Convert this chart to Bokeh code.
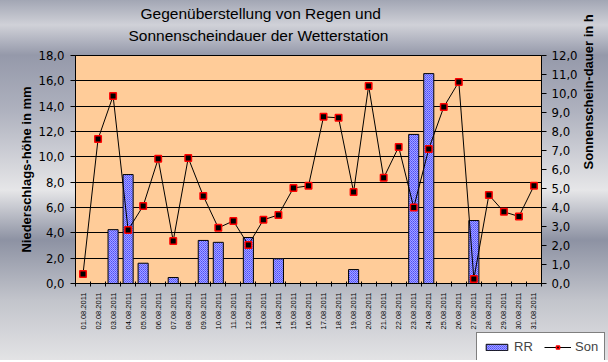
import math
from bokeh.plotting import figure
from bokeh.layouts import column, row
from bokeh.models import (Range1d, LinearAxis, FixedTicker, CustomJSTickFormatter,
                          Title, Legend, LegendItem, ColumnDataSource, Spacer)
from bokeh.embed import file_html
from bokeh.resources import INLINE

# ---- data ----
dates = ["01.08.2011", "02.08.2011", "03.08.2011", "04.08.2011", "05.08.2011", "06.08.2011",
         "07.08.2011", "08.08.2011", "09.08.2011", "10.08.2011", "11.08.2011", "12.08.2011",
         "13.08.2011", "14.08.2011", "15.08.2011", "16.08.2011", "17.08.2011", "18.08.2011",
         "19.08.2011", "20.08.2011", "21.08.2011", "22.08.2011", "23.08.2011", "24.08.2011",
         "25.08.2011", "26.08.2011", "27.08.2011", "28.08.2011", "29.08.2011", "30.08.2011",
         "31.08.2011"]
rr = [0, 0, 4.25, 8.6, 1.6, 0, 0.47, 0, 3.4, 3.25, 0, 3.63, 0, 1.95, 0, 0,
      0, 0, 1.1, 0, 0, 0, 11.77, 16.57, 0, 0, 4.97, 0, 0, 0, 0]
son = [0.5, 7.6, 9.87, 2.82, 4.08, 6.56, 2.24, 6.61, 4.61, 2.93, 3.29, 2.03, 3.35, 3.61,
       5.03, 5.14, 8.77, 8.72, 4.82, 10.4, 5.56, 7.19, 4.0, 7.08, 9.29, 10.61, 0.24,
       4.66, 3.77, 3.53, 5.14]
left_ticks = [0, 2, 4, 6, 8, 10, 12, 14, 16, 18]
right_ticks = [0, 1, 2, 3, 4, 5, 6, 7, 8, 9, 10, 11, 12]
title_lines = ["Gegenüberstellung von Regen und", "Sonnenscheindauer der Wetterstation"]
series_names = ["RR", "Son"]

# ---- style ----
NARROW = "'Liberation Sans Narrow', 'DejaVu Sans Condensed', sans-serif"
SANS = "'Liberation Sans', Arial, sans-serif"
GRADIENT = ("linear-gradient(to bottom, #a2a6b4 0px, #d0d1d8 25px, #9599aa 55px, "
            "#aeb1be 110px, #e6e6e8 190px, #8d92a3 240px, #c2c4cb 300px, #e4e4e6 362px)")
BAR_STYLE = dict(fill_color="white", hatch_pattern="criss_cross", hatch_color="#4a4aff",
                 hatch_scale=2, hatch_weight=1, line_color="black", line_width=1)
LINE_STYLE = dict(line_color="black", line_width=1)
MARK_STYLE = dict(marker="square", size=6.5, fill_color="black", line_color="red",
                  line_width=1.5)

x = list(range(1, len(dates) + 1))
src = ColumnDataSource(dict(x=x, rr=rr, son=son))

p = figure(frame_width=466, frame_height=228,
           x_range=Range1d(0.5, len(dates) + 0.5), y_range=Range1d(0, 18),
           output_backend="svg", toolbar_location=None,
           min_border_left=75, min_border_right=67, min_border_top=55, min_border_bottom=48,
           border_fill_alpha=0.0,
           background_fill_color="#ffcc99", outline_line_color="black",
           title=title_lines[0])
p.extra_y_ranges = {"sun": Range1d(0, 12)}

p.title.text_font = SANS
p.title.text_font_style = "normal"
p.title.text_font_size = "15.5px"
p.title.text_color = "black"
p.title.align = "left"
p.title.offset = 65
try:
    p.title.standoff = -18
except Exception:
    p.title.standoff = 0
t2 = Title(text=title_lines[1], text_font=SANS, text_font_style="normal",
           text_font_size="15.5px", text_color="black", align="left", offset=53, standoff=24)
p.add_layout(t2, "above")

# axes
p.xaxis.ticker = FixedTicker(ticks=x, minor_ticks=[k + 0.5 for k in range(0, len(dates) + 1)])
p.xaxis.formatter = CustomJSTickFormatter(args=dict(labels=dates),
                                          code="return labels[Math.round(tick)-1] || '';")
p.xaxis.major_label_orientation = math.pi / 2
p.xaxis.major_tick_in = 0
p.xaxis.major_tick_out = 0
p.xaxis.minor_tick_in = 2
p.xaxis.minor_tick_out = 3
p.xaxis.minor_tick_line_color = "black"
p.xaxis.major_label_standoff = 6
p.xaxis.major_label_text_font = SANS
p.xaxis.major_label_text_font_size = "7.5px"
p.xaxis.major_label_text_color = "black"
p.xaxis.axis_line_color = "black"

fmt = "return tick.toFixed(1).replace('.', ',');"
p.yaxis.ticker = FixedTicker(ticks=left_ticks)
p.yaxis.formatter = CustomJSTickFormatter(code=fmt)
p.yaxis.axis_label = "Niederschlags-höhe in mm"

right = LinearAxis(y_range_name="sun", ticker=FixedTicker(ticks=right_ticks),
                   formatter=CustomJSTickFormatter(code=fmt),
                   axis_label="Sonnenschein-dauer in h")
p.add_layout(right, "right")

for ax in (p.yaxis[0], right):
    ax.major_tick_in = 0
    ax.major_tick_out = 5
    ax.minor_tick_line_color = None
    ax.major_tick_line_color = "black"
    ax.axis_line_color = "black"
    ax.major_label_text_font = NARROW
    ax.major_label_text_font_size = "13px"
    ax.major_label_text_color = "black"
    ax.axis_label_text_font = SANS
    ax.axis_label_text_font_style = "bold"
    ax.axis_label_text_font_size = "13px"
    ax.axis_label_text_color = "black"
p.yaxis[0].major_label_standoff = 6
p.yaxis[0].axis_label_standoff = 1
right.major_label_standoff = 5
right.axis_label_standoff = 8
right.axis_label_orientation = math.pi / 2

p.xgrid.grid_line_color = None
p.ygrid.ticker = FixedTicker(ticks=left_ticks)
p.ygrid.grid_line_color = "black"
p.ygrid.grid_line_width = 1

# glyphs
p.vbar(x="x", top="rr", width=0.67, source=src, **BAR_STYLE)
p.line(x="x", y="son", source=src, y_range_name="sun", **LINE_STYLE)
p.scatter(x="x", y="son", source=src, y_range_name="sun", **MARK_STYLE)

# legend in its own small figure placed under the chart's lower right corner;
# its renderers use the same data but lie outside that small figure's ranges
lf = figure(width=132, height=28, x_range=Range1d(-20, -19), y_range=Range1d(-20, -19),
            output_backend="svg", toolbar_location=None, min_border=0,
            x_axis_location=None, y_axis_location=None, outline_line_color=None,
            background_fill_alpha=0.0, border_fill_alpha=0.0)
lf.grid.visible = False
lb = lf.vbar(x="x", top="rr", width=0.67, source=src, **BAR_STYLE)
ll = lf.line(x="x", y="son", source=src, **LINE_STYLE)
lm = lf.scatter(x="x", y="son", source=src, **MARK_STYLE)
legend = Legend(items=[LegendItem(label=series_names[0], renderers=[lb]),
                       LegendItem(label=series_names[1], renderers=[ll, lm])],
                orientation="horizontal", location="top_left",
                border_line_color="black", border_line_width=1,
                background_fill_color="white", background_fill_alpha=1.0,
                label_text_font=SANS, label_text_font_size="13px",
                glyph_width=27, glyph_height=8, label_standoff=4, spacing=10,
                padding=6, margin=0, label_height=12)
lf.add_layout(legend)

layout = column(p, row(Spacer(width=476, height=28), lf, spacing=0), spacing=0,
                styles={"background": GRADIENT})

open("out.html", "w").write(file_html(layout, INLINE))
